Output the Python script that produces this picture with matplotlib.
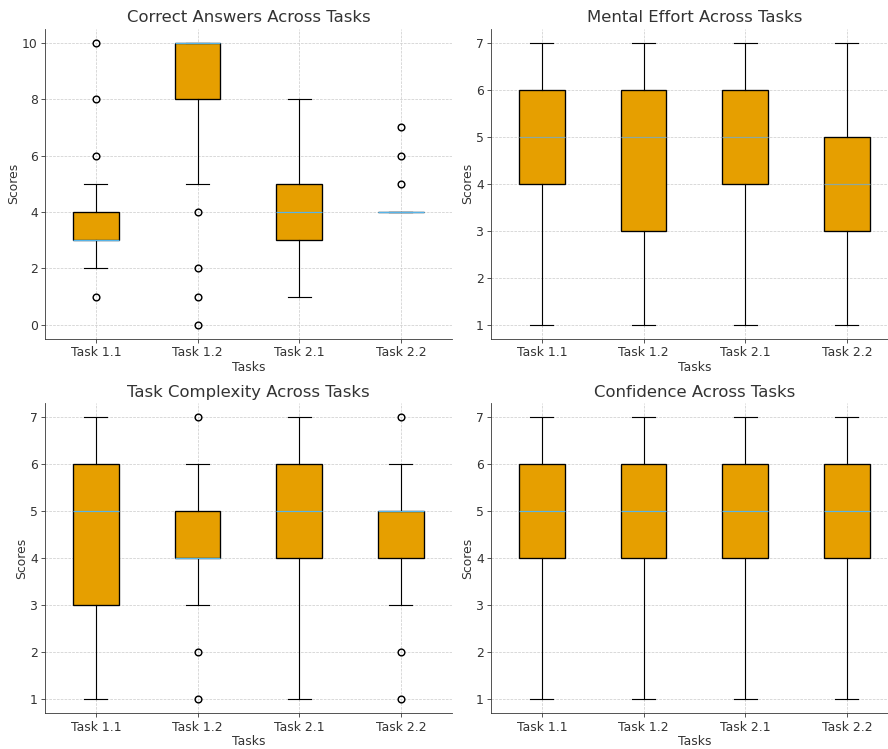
import matplotlib
matplotlib.use("Agg")
import matplotlib.pyplot as plt

# Task labels shared by every panel
tasks = ["Task 1.1", "Task 1.2", "Task 2.1", "Task 2.2"]

# Correct answers (0-10)
correct_whislo = [2, 5, 1, 4]
correct_q1 = [3, 8, 3, 4]
correct_med = [3, 10, 4, 4]
correct_q3 = [4, 10, 5, 4]
correct_whishi = [5, 10, 8, 4]
correct_fliers = [[1, 6, 8, 10], [0, 1, 2, 4], [], [5, 6, 7]]

# Mental effort (1-7)
effort_whislo = [1, 1, 1, 1]
effort_q1 = [4, 3, 4, 3]
effort_med = [5, 5, 5, 4]
effort_q3 = [6, 6, 6, 5]
effort_whishi = [7, 7, 7, 7]
effort_fliers = [[], [], [], []]

# Task complexity (1-7)
complexity_whislo = [1, 3, 1, 3]
complexity_q1 = [3, 4, 4, 4]
complexity_med = [5, 4, 5, 5]
complexity_q3 = [6, 5, 6, 5]
complexity_whishi = [7, 6, 7, 6]
complexity_fliers = [[], [1, 2, 7], [], [1, 2, 7]]

# Confidence (1-7)
confidence_whislo = [1, 1, 1, 1]
confidence_q1 = [4, 4, 4, 4]
confidence_med = [5, 5, 5, 5]
confidence_q3 = [6, 6, 6, 6]
confidence_whishi = [7, 7, 7, 7]
confidence_fliers = [[], [], [], []]

TEXT = "#333333"
BOX = "#E69F00"

plt.rcParams.update({
    "font.family": "DejaVu Sans",
    "text.color": TEXT,
    "axes.labelcolor": TEXT,
    "xtick.color": TEXT,
    "ytick.color": TEXT,
    "axes.edgecolor": TEXT,
})

DPI = 74
fig = plt.figure(figsize=(888 / DPI, 749 / DPI), dpi=DPI)

panels = [
    ("Correct Answers Across Tasks", correct_whislo, correct_q1, correct_med,
     correct_q3, correct_whishi, correct_fliers, "#56B4E9"),
    ("Mental Effort Across Tasks", effort_whislo, effort_q1, effort_med,
     effort_q3, effort_whishi, effort_fliers, "#8EA89E"),
    ("Task Complexity Across Tasks", complexity_whislo, complexity_q1, complexity_med,
     complexity_q3, complexity_whishi, complexity_fliers, "#56B4E9"),
    ("Confidence Across Tasks", confidence_whislo, confidence_q1, confidence_med,
     confidence_q3, confidence_whishi, confidence_fliers, "#56B4E9"),
]

lefts = [0.0507, 0.553]
bottoms = [0.5473, 0.0475]
w, h = 0.458, 0.4146

for i, (title, wlo, q1, med, q3, whi, fl, medcol) in enumerate(panels):
    ax = fig.add_axes([lefts[i % 2], bottoms[i // 2], w, h])
    stats = []
    for j, name in enumerate(tasks):
        stats.append(dict(label=name, whislo=wlo[j], q1=q1[j], med=med[j],
                          q3=q3[j], whishi=whi[j], fliers=fl[j]))
    ax.bxp(stats, widths=0.45, patch_artist=True,
           boxprops=dict(facecolor=BOX, edgecolor="black", linewidth=1.3),
           medianprops=dict(color=medcol, linewidth=1.2),
           whiskerprops=dict(color="black", linewidth=1.1),
           capprops=dict(color="black", linewidth=1.1),
           flierprops=dict(marker="o", markerfacecolor="none",
                           markeredgecolor="black", markersize=6.5,
                           markeredgewidth=1.4))
    ax.set_title(title, fontsize=16, color=TEXT)
    ax.set_xlabel("Tasks", fontsize=12, labelpad=1.5)
    ax.set_ylabel("Scores", fontsize=12, labelpad=2)
    ax.tick_params(labelsize=12)
    ax.grid(True, linestyle="--", linewidth=0.7, color="#cccccc")
    ax.set_axisbelow(True)
    for s in ("top", "right"):
        ax.spines[s].set_visible(False)

fig.savefig("out.png", dpi=DPI)
